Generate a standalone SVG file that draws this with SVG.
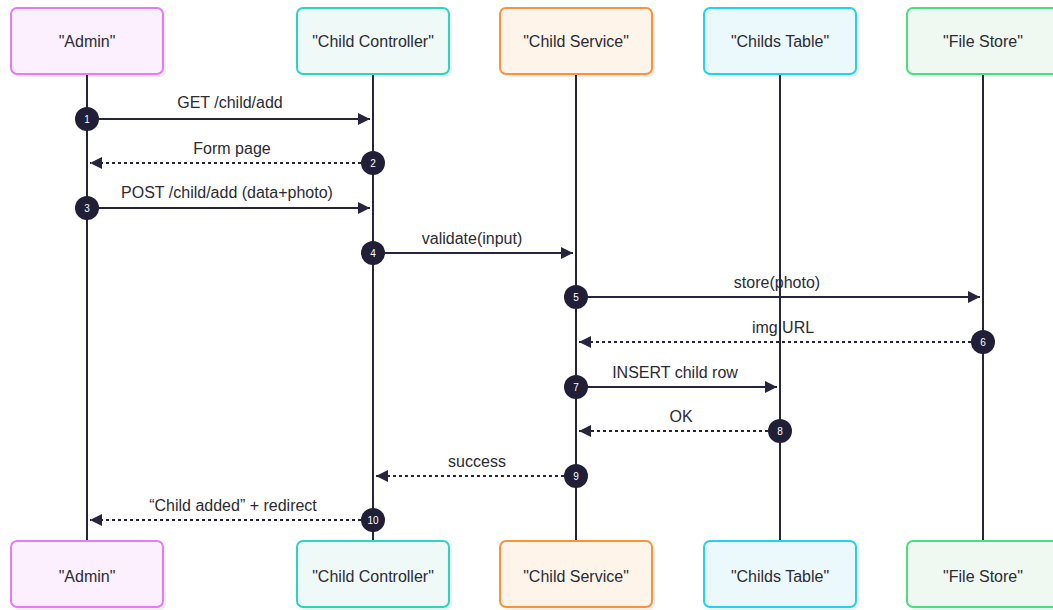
<svg xmlns="http://www.w3.org/2000/svg" width="1053" height="610" viewBox="0 0 1053 610">
<style>
.box{stroke-width:2}
.sh{fill:#000;opacity:0.06}
.nt{font-family:"Liberation Sans",Arial,sans-serif;font-size:16px;fill:#2b2b33;text-anchor:middle}
.life{stroke:#27243d;stroke-width:2}
.msg{stroke:#27243d;stroke-width:2;fill:none}
.dash{stroke-dasharray:3,3}
.lbl{font-family:"Liberation Sans",Arial,sans-serif;font-size:16px;fill:#2b2b33;text-anchor:middle}
.num{fill:#211e38}
.nn{font-family:"Liberation Sans",Arial,sans-serif;font-size:10px;fill:#ffffff;text-anchor:middle}
</style>
<defs>
<marker id="ah" viewBox="0 0 10 10" refX="10" refY="5" markerWidth="12" markerHeight="12" markerUnits="userSpaceOnUse" orient="auto">
<path d="M0,0 L10,5 L0,10 z" fill="#27243d"/>
</marker>
</defs>
<rect width="1053" height="610" fill="#ffffff"/>
<g id="lifelines">
<line class="life" x1="87" y1="74" x2="87" y2="541"/>
<line class="life" x1="373" y1="74" x2="373" y2="541"/>
<line class="life" x1="576" y1="74" x2="576" y2="541"/>
<line class="life" x1="780" y1="74" x2="780" y2="541"/>
<line class="life" x1="983" y1="74" x2="983" y2="541"/>
</g>
<g id="admin">
<rect class="sh" x="14" y="11" width="152" height="66" rx="6"/>
<rect class="box" x="11" y="8" width="152" height="66" rx="6" fill="#fcf0fe" stroke="#e879f9"/>
<text class="nt" x="87" y="47">"Admin"</text>
<rect class="sh" x="14" y="544" width="152" height="66" rx="6"/>
<rect class="box" x="11" y="541" width="152" height="66" rx="6" fill="#fcf0fe" stroke="#e879f9"/>
<text class="nt" x="87" y="582">"Admin"</text>
</g>
<g id="controller">
<rect class="sh" x="300" y="11" width="152" height="66" rx="6"/>
<rect class="box" x="297" y="8" width="152" height="66" rx="6" fill="#eff9f8" stroke="#2dd4bf"/>
<text class="nt" x="373" y="47">"Child Controller"</text>
<rect class="sh" x="300" y="544" width="152" height="66" rx="6"/>
<rect class="box" x="297" y="541" width="152" height="66" rx="6" fill="#eff9f8" stroke="#2dd4bf"/>
<text class="nt" x="373" y="582">"Child Controller"</text>
</g>
<g id="service">
<rect class="sh" x="503" y="11" width="152" height="66" rx="6"/>
<rect class="box" x="500" y="8" width="152" height="66" rx="6" fill="#fff4ea" stroke="#fb923c"/>
<text class="nt" x="576" y="47">"Child Service"</text>
<rect class="sh" x="503" y="544" width="152" height="66" rx="6"/>
<rect class="box" x="500" y="541" width="152" height="66" rx="6" fill="#fff4ea" stroke="#fb923c"/>
<text class="nt" x="576" y="582">"Child Service"</text>
</g>
<g id="table">
<rect class="sh" x="707" y="11" width="152" height="66" rx="6"/>
<rect class="box" x="704" y="8" width="152" height="66" rx="6" fill="#ebf9fd" stroke="#22d3ee"/>
<text class="nt" x="780" y="47">"Childs Table"</text>
<rect class="sh" x="707" y="544" width="152" height="66" rx="6"/>
<rect class="box" x="704" y="541" width="152" height="66" rx="6" fill="#ebf9fd" stroke="#22d3ee"/>
<text class="nt" x="780" y="582">"Childs Table"</text>
</g>
<g id="filestore">
<rect class="sh" x="910" y="11" width="152" height="66" rx="6"/>
<rect class="box" x="907" y="8" width="152" height="66" rx="6" fill="#eff9f1" stroke="#4ade80"/>
<text class="nt" x="983" y="47">"File Store"</text>
<rect class="sh" x="910" y="544" width="152" height="66" rx="6"/>
<rect class="box" x="907" y="541" width="152" height="66" rx="6" fill="#eff9f1" stroke="#4ade80"/>
<text class="nt" x="983" y="582">"File Store"</text>
</g>
<g id="connectors">
<line class="msg" x1="87" y1="119" x2="370" y2="119" marker-end="url(#ah)"/>
<text class="lbl" x="230" y="108">GET /child/add</text>
<line class="msg dash" x1="373" y1="163" x2="90" y2="163" marker-end="url(#ah)"/>
<text class="lbl" x="232" y="154">Form page</text>
<line class="msg" x1="87" y1="208" x2="370" y2="208" marker-end="url(#ah)"/>
<text class="lbl" x="227" y="198">POST /child/add (data+photo)</text>
<line class="msg" x1="373" y1="253" x2="573" y2="253" marker-end="url(#ah)"/>
<text class="lbl" x="472" y="244">validate(input)</text>
<line class="msg" x1="576" y1="297" x2="980" y2="297" marker-end="url(#ah)"/>
<text class="lbl" x="777" y="288">store(photo)</text>
<line class="msg dash" x1="983" y1="342" x2="579" y2="342" marker-end="url(#ah)"/>
<text class="lbl" x="783" y="333">img URL</text>
<line class="msg" x1="576" y1="387" x2="777" y2="387" marker-end="url(#ah)"/>
<text class="lbl" x="675" y="378">INSERT child row</text>
<line class="msg dash" x1="780" y1="431" x2="579" y2="431" marker-end="url(#ah)"/>
<text class="lbl" x="681" y="422">OK</text>
<line class="msg dash" x1="576" y1="476" x2="376" y2="476" marker-end="url(#ah)"/>
<text class="lbl" x="477" y="467">success</text>
<line class="msg dash" x1="373" y1="520" x2="90" y2="520" marker-end="url(#ah)"/>
<text class="lbl" x="233" y="511">“Child added” + redirect</text>
</g>
<g id="numbers">
<circle class="num" cx="87" cy="119" r="12"/><text class="nn" x="87" y="123">1</text>
<circle class="num" cx="373" cy="163" r="12"/><text class="nn" x="373" y="167">2</text>
<circle class="num" cx="87" cy="208" r="12"/><text class="nn" x="87" y="212">3</text>
<circle class="num" cx="373" cy="253" r="12"/><text class="nn" x="373" y="257">4</text>
<circle class="num" cx="576" cy="297" r="12"/><text class="nn" x="576" y="301">5</text>
<circle class="num" cx="983" cy="342" r="12"/><text class="nn" x="983" y="346">6</text>
<circle class="num" cx="576" cy="387" r="12"/><text class="nn" x="576" y="391">7</text>
<circle class="num" cx="780" cy="431" r="12"/><text class="nn" x="780" y="435">8</text>
<circle class="num" cx="576" cy="476" r="12"/><text class="nn" x="576" y="480">9</text>
<circle class="num" cx="373" cy="520" r="12"/><text class="nn" x="373" y="524">10</text>
</g>
</svg>
